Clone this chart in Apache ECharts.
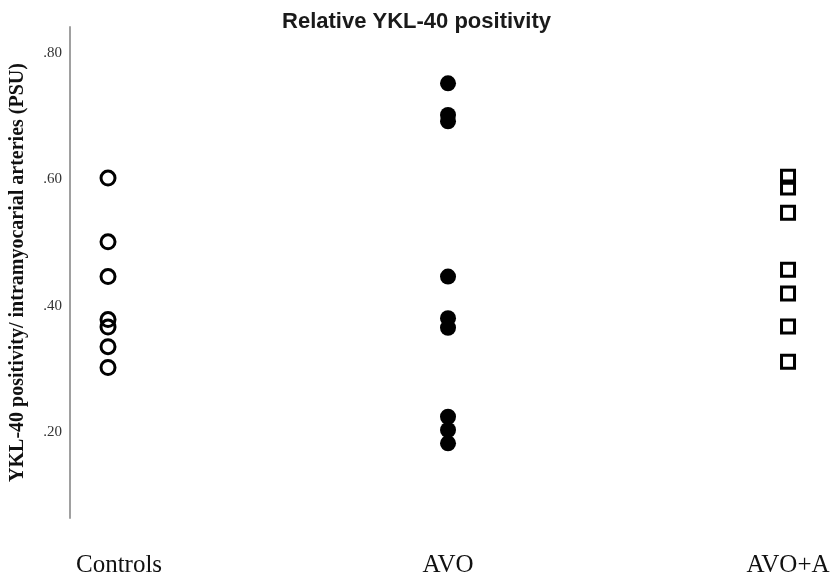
<!DOCTYPE html>
<html>
<head>
<meta charset="utf-8">
<script src="https://cdn.jsdelivr.net/npm/echarts@6/dist/echarts.min.js"></script>
<style>html,body{margin:0;padding:0;background:#fff}#c{width:833px;height:579px}</style>
</head>
<body>
<div id="c"></div>
<script>
var categories = ['Controls', 'AVO', 'AVO+A'];
var controls = [0.602, 0.501, 0.446, 0.378, 0.366, 0.335, 0.302];
var avo = [0.752, 0.702, 0.692, 0.446, 0.380, 0.365, 0.224, 0.203, 0.182];
var avoA = [0.604, 0.587, 0.547, 0.457, 0.419, 0.367, 0.311];
var yTicks = [0.2, 0.4, 0.6, 0.8];

function pts(idx, arr) { return arr.map(function (v) { return [idx, v]; }); }

var chart = echarts.init(document.getElementById('c'));
chart.setOption({
  animation: false,
  backgroundColor: '#fff',
  title: {
    text: 'Relative YKL-40 positivity',
    left: 'center',
    top: 6,
    textStyle: { fontFamily: 'Liberation Sans', fontWeight: 'bold', fontSize: 22, color: '#1a1a1a' }
  },
  grid: { left: 70, right: 0, top: 27, bottom: 61 },
  xAxis: {
    type: 'value',
    min: 0.8882,
    max: 3.1323,
    axisLine: { show: false },
    axisTick: { show: false },
    splitLine: { show: false },
    axisLabel: {
      customValues: [1, 2, 3],
      formatter: function (v) {
        var i = Math.round(v) - 1;
        return i === 0 ? '{p|' + categories[i] + '}' : (categories[i] || '');
      },
      rich: { p: { fontFamily: 'Liberation Serif', fontSize: 25, color: '#111', padding: [0, 0, 0, 22] } },
      fontFamily: 'Liberation Serif',
      fontSize: 25,
      color: '#111',
      margin: 35
    }
  },
  yAxis: {
    type: 'value',
    min: 0.0637,
    max: 0.8412,
    name: 'YKL-40 positivity/ intramyocarial arteries (PSU)',
    nameLocation: 'middle',
    nameGap: 42,
    nameTextStyle: { fontFamily: 'Liberation Serif', fontWeight: 'bold', fontSize: 20, color: '#111' },
    axisLine: { show: true, lineStyle: { color: '#a0a0a0', width: 2 } },
    axisTick: { show: false },
    splitLine: { show: false },
    axisLabel: {
      customValues: yTicks,
      formatter: function (v) { return v.toFixed(2).replace(/^0/, ''); },
      fontFamily: 'Liberation Serif',
      fontSize: 15,
      color: '#333',
      margin: 8
    }
  },
  series: [
    {
      type: 'scatter', data: pts(1, controls), symbol: 'circle', symbolSize: 14,
      itemStyle: { color: 'rgba(0,0,0,0)', borderColor: '#000', borderWidth: 3, opacity: 1 }
    },
    {
      type: 'scatter', data: pts(2, avo), symbol: 'circle', symbolSize: 16,
      itemStyle: { color: '#000', opacity: 1 }
    },
    {
      type: 'scatter', data: pts(3, avoA), symbol: 'rect', symbolSize: 13,
      itemStyle: { color: 'rgba(0,0,0,0)', borderColor: '#000', borderWidth: 3, opacity: 1 }
    }
  ]
});
</script>
</body>
</html>
